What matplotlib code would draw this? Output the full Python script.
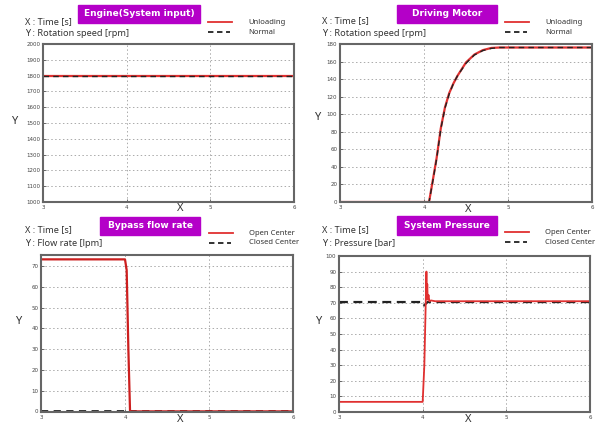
import matplotlib
matplotlib.use("Agg")
import matplotlib.pyplot as plt
from matplotlib.patches import Rectangle

W, H = 603, 425

# ---------------- data ----------------
x_ticks = [3, 4, 5, 6]

# Panel 1: Engine (System input)
eng_t = [3, 6]
eng_unloading = [1800, 1800]
eng_normal = [1800, 1800]
eng_yticks = [1000, 1100, 1200, 1300, 1400, 1500, 1600, 1700, 1800, 1900, 2000]

# Panel 2: Driving Motor
mot_t = [3, 4.06, 4.1, 4.15, 4.2, 4.25, 4.3, 4.35, 4.4, 4.5, 4.6, 4.7, 4.8, 4.9, 6]
mot_unloading = [0, 0, 22, 50, 84, 108, 124, 135, 144, 159, 168, 173, 175.5, 176, 176]
mot_normal = [0, 0, 21, 49, 83, 107, 123, 135, 144, 158, 167.5, 172.5, 175, 176, 176]
mot_yticks = [0, 20, 40, 60, 80, 100, 120, 140, 160, 180]

# Panel 3: Bypass flow rate
byp_t_open = [3, 4.0, 4.02, 4.04, 4.06, 6]
byp_open = [73.2, 73.2, 68, 30, 0, 0]
byp_t_closed = [3, 6]
byp_closed = [0, 0]
byp_yticks = [0, 10, 20, 30, 40, 50, 60, 70]

# Panel 4: System Pressure
prs_t_open = [3, 4.0, 4.02, 4.035, 4.045, 4.05, 4.055, 4.06, 4.07, 4.08, 4.1, 4.15, 6]
prs_open = [6.5, 6.5, 30, 66, 90, 74, 82, 72, 75, 71, 71.5, 71, 71]
prs_t_closed = [3, 3.98, 4.01, 4.03, 4.06, 6]
prs_closed = [70.5, 70.5, 68, 69, 70.5, 70.5]
prs_yticks = [0, 10, 20, 30, 40, 50, 60, 70, 80, 90, 100]

RED = "#e03030"
MAG = "#b400c8"
FONT = ["Noto Sans", "DejaVu Sans"]

fig = plt.figure(figsize=(W / 100, H / 100), dpi=100)
fig.patch.set_facecolor("white")


def fx(x):
    return x / W


def fy(y):
    return 1 - y / H


def make_ax(x0, y0, x1, y1, yticks, ylim):
    ax = fig.add_axes([fx(x0), fy(y1), (x1 - x0) / W, (y1 - y0) / H])
    ax.set_xlim(3, 6)
    ax.set_ylim(*ylim)
    ax.set_xticks(x_ticks)
    ax.set_yticks(yticks)
    ax.tick_params(labelsize=4, length=2.5, width=0.6, direction="in",
                   pad=2, colors="#555555", labelcolor="#444444")
    ax.grid(True, color="#aaaaaa", linestyle=(0, (1.5, 2.5)), linewidth=0.7)
    for s in ax.spines.values():
        s.set_color("#666666")
        s.set_linewidth(1.5)
    return ax


def header(x_title0, x_title1, y_title0, y_title1, title, xtxt, ytxt,
           leg_x0, leg_y, lab1, lab2, ylabel_xy, xlabel_xy):
    fig.patches.append(Rectangle((fx(x_title0), fy(y_title1)),
                                 (x_title1 - x_title0) / W,
                                 (y_title1 - y_title0) / H,
                                 transform=fig.transFigure, color=MAG,
                                 zorder=2))
    fig.text(fx((x_title0 + x_title1) / 2), fy((y_title0 + y_title1) / 2),
             title, color="white", fontsize=6.5, fontweight="bold",
             ha="center", va="center", family="DejaVu Sans", zorder=3)
    fig.text(fx(xtxt[0]), fy(xtxt[1]), xtxt[2], fontsize=6.6, ha="left",
             va="center", family=FONT, color="#333333")
    fig.text(fx(ytxt[0]), fy(ytxt[1]), ytxt[2], fontsize=6.6, ha="left",
             va="center", family=FONT, color="#333333")
    fig.add_artist(plt.Line2D([fx(leg_x0), fx(leg_x0 + 24)],
                              [fy(leg_y), fy(leg_y)], color=RED, lw=1.3,
                              transform=fig.transFigure))
    fig.add_artist(plt.Line2D([fx(leg_x0), fx(leg_x0 + 22)],
                              [fy(leg_y + 10), fy(leg_y + 10)], color="#222222",
                              lw=1.3, linestyle=(0, (3, 2)),
                              transform=fig.transFigure))
    fig.text(fx(leg_x0 + 40), fy(leg_y + 1), lab1, fontsize=5.5, ha="left",
             va="center", family=FONT, color="#333333")
    fig.text(fx(leg_x0 + 40), fy(leg_y + 10), lab2, fontsize=5.5, ha="left",
             va="center", family=FONT, color="#333333")
    fig.text(fx(ylabel_xy[0]), fy(ylabel_xy[1]), "Y", fontsize=8,
             ha="center", va="center", family=FONT, color="#333333")
    fig.text(fx(xlabel_xy[0]), fy(xlabel_xy[1]), "X", fontsize=8,
             ha="center", va="center", family=FONT, color="#333333")


# Panel 1
ax1 = make_ax(43, 44, 294, 202, eng_yticks, (1000, 2000))
ax1.plot(eng_t, eng_unloading, color=RED, lw=1.6)
ax1.plot(eng_t, eng_normal, color="#222222", lw=1.0, linestyle=(0, (4, 3)))
header(78, 200, 5, 23, "Engine(System input)",
       (25, 22, "X : Time [s]"), (25, 33, "Y : Rotation speed [rpm]"),
       208, 22, "Unloading", "Normal", (14, 122), (180, 208))

# Panel 2
ax2 = make_ax(340, 44, 592, 202, mot_yticks, (0, 180))
ax2.plot(mot_t, mot_unloading, color=RED, lw=1.6)
ax2.plot(mot_t, mot_normal, color="#222222", lw=1.0, linestyle=(0, (4, 3)))
header(397, 497, 5, 23, "Driving Motor",
       (322, 21, "X : Time [s]"), (322, 33, "Y : Rotation speed [rpm]"),
       505, 22, "Unloading", "Normal", (317, 118), (468, 210))

# Panel 3
ax3 = make_ax(41, 255, 293, 412, byp_yticks, (-0.3, 75.3))
ax3.plot(byp_t_closed, byp_closed, color="#222222", lw=1.3,
         linestyle=(0, (4, 3)))
ax3.plot(byp_t_open, byp_open, color="#cc1f1f", lw=1.6)
header(100, 200, 217, 235, "Bypass flow rate",
       (25, 230, "X : Time [s]"), (25, 243, "Y : Flow rate [lpm]"),
       209, 233, "Open Center", "Closed Center", (18, 322), (180, 419))

# Panel 4
ax4 = make_ax(339, 256, 590, 412, prs_yticks, (0, 100))
ax4.plot(prs_t_closed, prs_closed, color="#222222", lw=1.6,
         linestyle=(0, (4, 2.5)))
ax4.plot(prs_t_open, prs_open, color=RED, lw=1.3)
header(397, 497, 216, 235, "System Pressure",
       (322, 230, "X : Time [s]"), (322, 243, "Y : Pressure [bar]"),
       505, 232, "Open Center", "Closed Center", (318, 322), (468, 419))

fig.savefig("out.png", dpi=100)
